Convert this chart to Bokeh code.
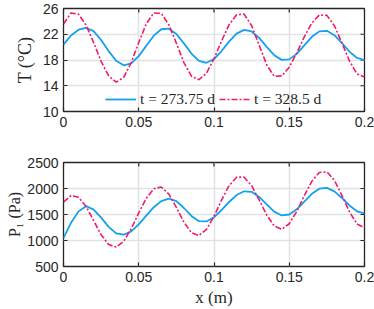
from bokeh.plotting import figure
from bokeh.layouts import column
from bokeh.models import Range1d, FixedTicker, Legend, LegendItem
from bokeh.embed import file_html
from bokeh.resources import INLINE

# ---------------- data ----------------
x_m = [0.000, 0.005, 0.010, 0.015, 0.020, 0.025, 0.030, 0.035, 0.040, 0.045,
       0.050, 0.055, 0.060, 0.065, 0.070, 0.075, 0.080, 0.085, 0.090, 0.095,
       0.100, 0.105, 0.110, 0.115, 0.120, 0.125, 0.130, 0.135, 0.140, 0.145,
       0.150, 0.155, 0.160, 0.165, 0.170, 0.175, 0.180, 0.185, 0.190, 0.195,
       0.200]

T_273 = [20.4, 21.8, 22.7, 23.0, 22.48, 21.11, 19.38, 17.88, 17.17, 17.46,
         18.6, 20.22, 21.78, 22.78, 22.87, 22.04, 20.58, 19.0, 17.86, 17.57,
         18.15, 19.39, 20.86, 22.1, 22.68, 22.43, 21.43, 20.04, 18.75, 18.02,
         18.1, 18.95, 20.28, 21.6, 22.45, 22.54, 21.85, 20.64, 19.31, 18.32,
         18.0]

T_328 = [23.6, 25.3, 25.11, 23.43, 20.72, 17.79, 15.52, 14.56, 15.3, 17.61,
         20.73, 23.62, 25.3, 25.24, 23.47, 20.61, 17.61, 15.48, 14.93, 15.96,
         18.18, 20.94, 23.46, 25.03, 25.13, 23.34, 20.3, 17.26, 15.47, 15.53,
         16.88, 19.09, 21.6, 23.75, 24.99, 24.93, 23.32, 20.66, 17.85, 15.85,
         15.35]

P_273 = [1050, 1340, 1560, 1660, 1593, 1440, 1262, 1136, 1111, 1176,
         1309, 1477, 1640, 1758, 1805, 1757, 1625, 1472, 1371, 1367,
         1447, 1584, 1741, 1874, 1946, 1936, 1838, 1693, 1556, 1482,
         1500, 1600, 1749, 1897, 1996, 2013, 1945, 1818, 1674, 1562,
         1520]

P_328 = [1740, 1865, 1831, 1652, 1384, 1112, 921, 873, 985, 1226,
         1530, 1813, 1996, 2028, 1893, 1637, 1354, 1149, 1096, 1214,
         1466, 1776, 2055, 2218, 2218, 2054, 1781, 1491, 1279, 1216,
         1322, 1559, 1862, 2139, 2309, 2320, 2156, 1867, 1553, 1318,
         1245]

series_labels = ["t = 273.75 d", "t = 328.5 d"]
x_ticks = [0, 0.05, 0.1, 0.15, 0.2]
x_tick_labels = ["0", "0.05", "0.1", "0.15", "0.2"]
T_ticks = [10, 14, 18, 22, 26]
P_ticks = [500, 1000, 1500, 2000, 2500]
T_title = "T (°C)"
P_title = "P₁ (Pa)"
x_title = "x (m)"

# ---------------- styling ----------------
BLUE = "#12a1ef"
RED = "#f01a6c"
INK = "#262626"
GRID = "#e2e2e2"
SANS = "Liberation Sans"
SERIF = "Liberation Serif"
DASHDOT = "6 2 2 2"
FRAME_W = 301          # plot-area width in px
TICK_LEN = 4           # px


def make_fig(height, y_lo, y_hi, y_ticks, y_title, title_size, title_gap,
             mb_top, mb_bottom):
    p = figure(width=374, height=height,
               x_range=Range1d(0, 0.2), y_range=Range1d(y_lo, y_hi),
               output_backend="svg", toolbar_location=None,
               min_border_left=63, min_border_right=10,
               min_border_top=mb_top, min_border_bottom=mb_bottom)
    p.outline_line_color = INK
    p.outline_line_width = 1.3
    p.outline_line_alpha = 1.0
    p.background_fill_color = "white"
    p.border_fill_color = "white"

    xa = p.xaxis[0]
    xa.ticker = FixedTicker(ticks=x_ticks)
    xa.major_label_overrides = dict(zip(x_ticks, x_tick_labels))
    ya = p.yaxis[0]
    ya.ticker = FixedTicker(ticks=y_ticks)
    ya.major_label_overrides = {t: str(t) for t in y_ticks}
    ya.axis_label = y_title
    for ax in (xa, ya):
        ax.axis_line_color = None
        ax.major_tick_in = TICK_LEN
        ax.major_tick_out = 0
        ax.major_tick_line_color = INK
        ax.major_tick_line_width = 1.2
        ax.minor_tick_line_color = None
        ax.major_label_text_font = SANS
        ax.major_label_text_font_size = "14px"
        ax.major_label_text_color = INK
        ax.axis_label_text_font = SERIF
        ax.axis_label_text_font_style = "normal"
        ax.axis_label_text_font_size = title_size
        ax.axis_label_text_color = INK
    ya.axis_label_standoff = title_gap
    xa.axis_label_standoff = 3
    xa.major_label_standoff = 5
    ya.major_label_standoff = 5

    p.xgrid[0].ticker = FixedTicker(ticks=x_ticks)
    p.ygrid[0].ticker = FixedTicker(ticks=y_ticks)
    p.grid.grid_line_color = GRID
    p.grid.grid_line_width = 1.5

    # mirrored inward ticks on the right and top edges of the box
    frame_h = height - mb_top - mb_bottom
    dx = 0.2 * TICK_LEN / FRAME_W
    dy = (y_hi - y_lo) * TICK_LEN / frame_h
    p.segment(x0=[0.2] * len(y_ticks), y0=y_ticks,
              x1=[0.2 - dx] * len(y_ticks), y1=y_ticks,
              line_color=INK, line_width=1.2)
    p.segment(x0=x_ticks, y0=[y_hi] * len(x_ticks),
              x1=x_ticks, y1=[y_hi - dy] * len(x_ticks),
              line_color=INK, line_width=1.2)
    return p


# ---------------- top panel: temperature ----------------
p1 = make_fig(140, 10, 26, T_ticks, T_title, "18px", 5, 8, 29)
r1 = p1.line(x_m, T_273, line_color=BLUE, line_width=1.8)
r2 = p1.line(x_m, T_328, line_color=RED, line_width=1.6, line_dash=DASHDOT)

legend = Legend(items=[LegendItem(label=series_labels[0], renderers=[r1]),
                       LegendItem(label=series_labels[1], renderers=[r2])],
                orientation="horizontal", location=(42, 3),
                padding=0, margin=0, spacing=4, label_standoff=4,
                glyph_width=31, glyph_height=18,
                label_text_font=SERIF, label_text_font_size="15.5px",
                label_text_color=INK,
                background_fill_alpha=0, border_line_alpha=0)
p1.add_layout(legend, "center")

# ---------------- bottom panel: pressure ----------------
p2 = make_fig(169, 500, 2500, P_ticks, P_title, "16px", 1, 22, 43)
p2.line(x_m, P_273, line_color=BLUE, line_width=1.8)
p2.line(x_m, P_328, line_color=RED, line_width=1.6, line_dash=DASHDOT)
p2.xaxis[0].axis_label = x_title
p2.xaxis[0].axis_label_text_font_size = "17px"

layout = column(p1, p2, spacing=0)

open("out.html", "w").write(file_html(layout, INLINE))
